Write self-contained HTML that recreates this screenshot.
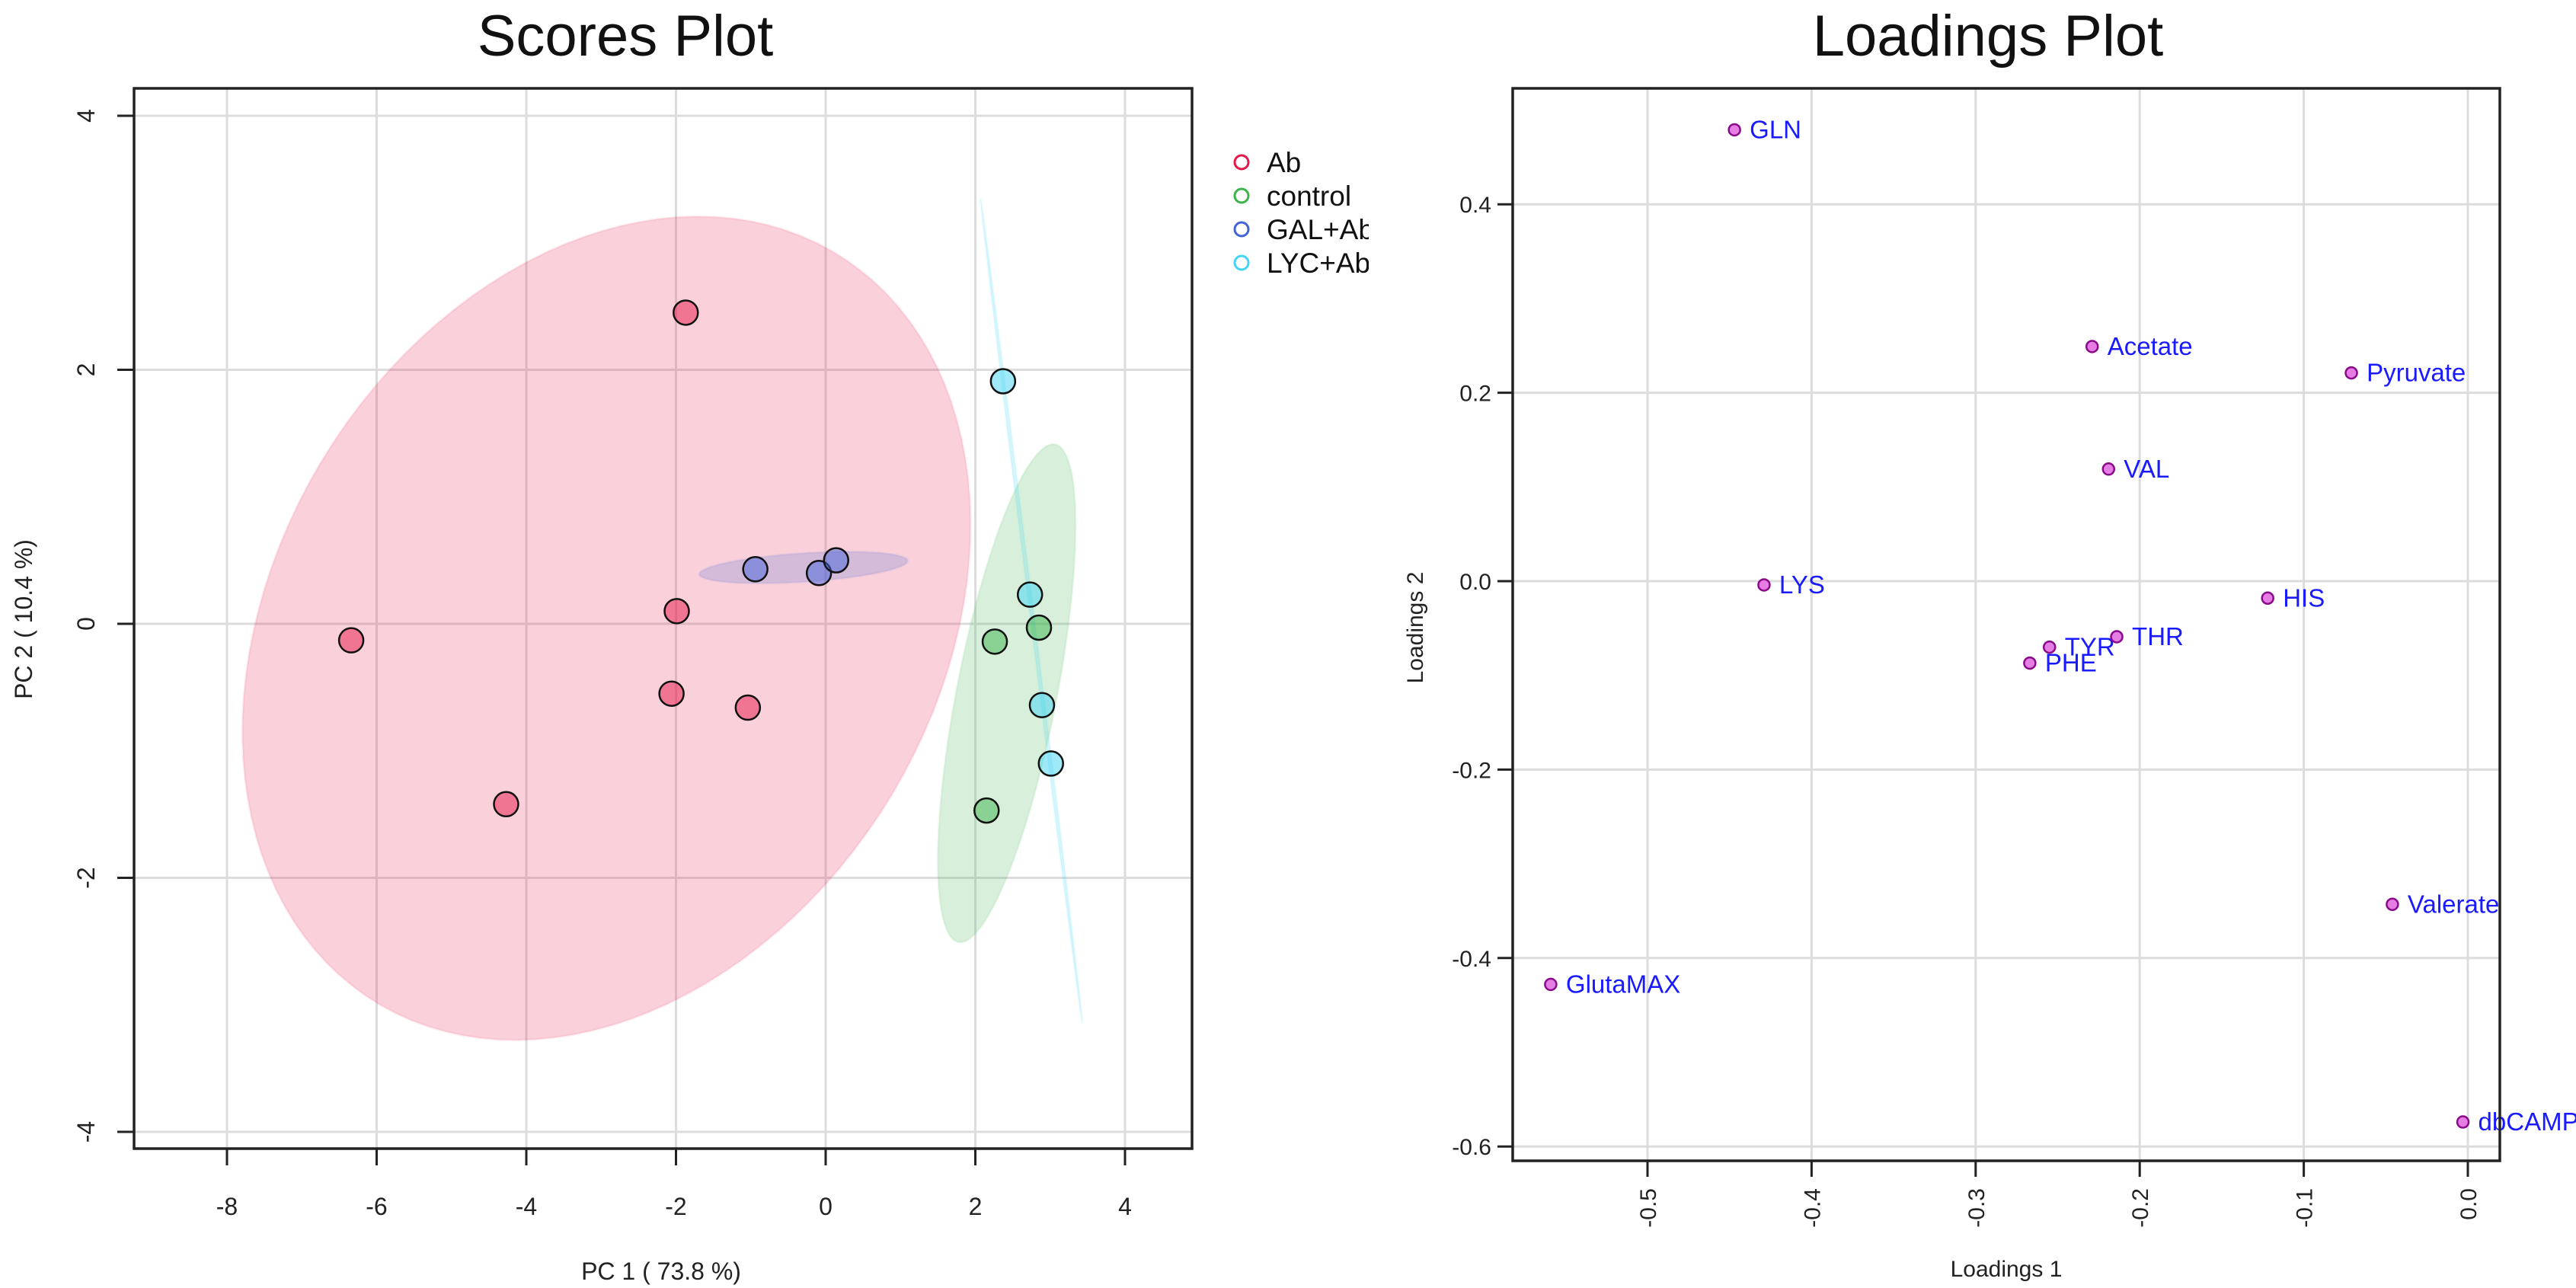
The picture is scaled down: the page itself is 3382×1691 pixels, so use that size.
<!DOCTYPE html>
<html><head><meta charset="utf-8">
<style>
html,body{margin:0;padding:0;background:#fff;}
svg{display:block;font-family:"Liberation Sans",sans-serif;}
</style></head>
<body>
<svg id="chart" width="3382" height="1691" viewBox="0 0 3382 1691" xmlns="http://www.w3.org/2000/svg">
<defs><clipPath id="legclip"><rect x="1600" y="180" width="197" height="200"/></clipPath></defs>
<rect width="3382" height="1691" fill="#fff"/>
<g id="scores"></g>
<g id="loadings"></g>
</svg>
<script>
// ---- Scores plot data ----
const groups = ["Ab", "control", "GAL+Ab", "LYC+Ab"];
const groupColors = ["230,25,75", "60,180,75", "67,99,216", "66,212,244"];
const abX = [-1.87, -1.99, -6.34, -2.06, -1.04, -4.27];
const abY = [2.45, 0.10, -0.13, -0.55, -0.66, -1.42];
const ctrlX = [2.26, 2.85, 2.15];
const ctrlY = [-0.14, -0.03, -1.47];
const galX = [-0.94, -0.09, 0.14];
const galY = [0.43, 0.40, 0.50];
const lycX = [2.37, 2.73, 2.89, 3.01];
const lycY = [1.91, 0.23, -0.64, -1.10];
const scoreXTicks = [-8, -6, -4, -2, 0, 2, 4];
const scoreYTicks = [-4, -2, 0, 2, 4];
// ---- Loadings plot data ----
const loadNames = ["GLN","Acetate","Pyruvate","VAL","LYS","HIS","TYR","THR","PHE","Valerate","GlutaMAX","dbCAMP"];
const load1 = [-0.447,-0.229,-0.071,-0.219,-0.429,-0.122,-0.255,-0.214,-0.267,-0.046,-0.559,-0.003];
const load2 = [0.479,0.249,0.221,0.119,-0.004,-0.018,-0.070,-0.059,-0.087,-0.343,-0.428,-0.574];
const loadXTicks = [-0.5,-0.4,-0.3,-0.2,-0.1,0.0];
const loadYTicks = [-0.6,-0.4,-0.2,0.0,0.2,0.4];

const NS = "http://www.w3.org/2000/svg";
function mk(parent, tag, attrs, text){
  const e = document.createElementNS(NS, tag);
  for (const k in attrs) e.setAttribute(k, attrs[k]);
  if (text !== undefined) e.textContent = text;
  parent.appendChild(e);
  return e;
}

// Scores axes
const sx = v => 1084 + v * 98.25;
const sy = v => 819 - v * 166.75;
const S = document.getElementById("scores");
let t = mk(S, "text", {x: 821, y: 73, "font-size": 76, "text-anchor": "middle", fill: "#111"}, "Scores Plot");


scoreXTicks.forEach(v => {
  const l = mk(S, "line", {x1: sx(v), x2: sx(v), y1: 116, y2: 1508, stroke: "#dcdcdc", "stroke-width": 3});
  
  
  const tk = mk(S, "line", {x1: sx(v), x2: sx(v), y1: 1508, y2: 1530, stroke: "#222", "stroke-width": 3});
  
  
  const lb = mk(S, "text", {x: sx(v), y: 1595, "font-size": 32, "text-anchor": "middle", fill: "#222"}, String(v));
  
  
});
scoreYTicks.forEach(v => {
  const l = mk(S, "line", {x1: 176, x2: 1565, y1: sy(v), y2: sy(v), stroke: "#dcdcdc", "stroke-width": 3});
  
  
  const tk = mk(S, "line", {x1: 154, x2: 176, y1: sy(v), y2: sy(v), stroke: "#222", "stroke-width": 3});
  
  
  const lb = mk(S, "text", {x: 124, y: sy(v), "font-size": 32, "text-anchor": "middle", fill: "#222", transform: `rotate(-90 124 ${sy(v)})`}, String(v));
  
  
});
t = mk(S, "text", {x: 868, y: 1680, "font-size": 32, "text-anchor": "middle", fill: "#222"}, "PC 1 ( 73.8 %)");


t = mk(S, "text", {x: 42, y: 813, "font-size": 32, "text-anchor": "middle", fill: "#222", transform: "rotate(-90 42 813)"}, "PC 2 ( 10.4 %)");



const series = [[abX, abY], [ctrlX, ctrlY], [galX, galY], [lycX, lycY]];
const K = 2.4477;
series.forEach((s, gi) => {
  const xs = s[0], ys = s[1], n = xs.length;
  const mx = xs.reduce((a, b) => a + b, 0) / n, my = ys.reduce((a, b) => a + b, 0) / n;
  let cxx = 0, cyy = 0, cxy = 0;
  for (let i = 0; i < n; i++) { cxx += (xs[i]-mx)**2; cyy += (ys[i]-my)**2; cxy += (xs[i]-mx)*(ys[i]-my); }
  cxx /= (n-1); cyy /= (n-1); cxy /= (n-1);
  const tr = cxx + cyy, det = cxx*cyy - cxy*cxy;
  const l1 = tr/2 + Math.sqrt(Math.max(0, tr*tr/4 - det)), l2 = Math.max(0, tr/2 - Math.sqrt(Math.max(0, tr*tr/4 - det)));
  const ang = Math.abs(cxy) < 1e-12 ? (cxx >= cyy ? 0 : Math.PI/2) : Math.atan2(l1 - cxx, cxy);
  let d = "";
  for (let k = 0; k <= 120; k++) {
    const th = k / 120 * 2 * Math.PI;
    const a = K*Math.sqrt(l1)*Math.cos(th), b = K*Math.sqrt(l2)*Math.sin(th);
    const px = mx + a*Math.cos(ang) - b*Math.sin(ang);
    const py = my + a*Math.sin(ang) + b*Math.cos(ang);
    d += (k ? "L" : "M") + sx(px).toFixed(1) + "," + sy(py).toFixed(1);
  }
  const p = mk(S, "path", {d: d + "Z", fill: `rgba(${groupColors[gi]},0.2)`, stroke: `rgba(${groupColors[gi]},0.08)`, "stroke-width": 3});
  
  
});
series.forEach((s, gi) => {
  s[0].forEach((xv, i) => {
    const c = mk(S, "circle", {cx: sx(xv), cy: sy(s[1][i]), r: 16, fill: `rgba(${groupColors[gi]},0.5)`, stroke: "#111", "stroke-width": 2.5});
    
    
  });
});
mk(S, "rect", {x: 176, y: 116, width: 1389, height: 1392, fill: "none", stroke: "#222", "stroke-width": 3.5});
const LG = mk(S, "g", {"clip-path": "url(#legclip)"});


const legY = [213, 257, 301, 345];
groups.forEach((g, i) => {
  const c = mk(LG, "circle", {cx: 1630, cy: legY[i], r: 9, fill: "none", stroke: `rgb(${groupColors[i]})`, "stroke-width": 3});
  
  
  const tx = mk(LG, "text", {x: 1663, y: legY[i] + 13, "font-size": 37, fill: "#111"}, g);
  
  
});

// Loadings axes
const lx = v => 3240 + v * 2154;
const ly = v => 763 - v * 1237;
const L = document.getElementById("loadings");
t = mk(L, "text", {x: 2610, y: 73, "font-size": 76, "text-anchor": "middle", fill: "#111"}, "Loadings Plot");


loadXTicks.forEach(v => {
  const l = mk(L, "line", {x1: lx(v), x2: lx(v), y1: 116, y2: 1524, stroke: "#dcdcdc", "stroke-width": 3});
  
  
  const tk = mk(L, "line", {x1: lx(v), x2: lx(v), y1: 1524, y2: 1545, stroke: "#222", "stroke-width": 3});
  
  
  const lb = mk(L, "text", {x: lx(v) + 11, y: 1560, "font-size": 30, "text-anchor": "end", fill: "#222", transform: `rotate(-90 ${lx(v) + 11} 1560)`}, v.toFixed(1));
  
  
});
loadYTicks.forEach(v => {
  const l = mk(L, "line", {x1: 1986, x2: 3282, y1: ly(v), y2: ly(v), stroke: "#dcdcdc", "stroke-width": 3});
  
  
  const tk = mk(L, "line", {x1: 1966, x2: 1986, y1: ly(v), y2: ly(v), stroke: "#222", "stroke-width": 3});
  
  
  const lb = mk(L, "text", {x: 1958, y: ly(v) + 11, "font-size": 30, "text-anchor": "end", fill: "#222"}, v.toFixed(1));
  
  
});
t = mk(L, "text", {x: 2634, y: 1676, "font-size": 30, "text-anchor": "middle", fill: "#222"}, "Loadings 1");


t = mk(L, "text", {x: 1868, y: 824, "font-size": 30, "text-anchor": "middle", fill: "#222", transform: "rotate(-90 1868 824)"}, "Loadings 2");


loadNames.forEach((nm, i) => {
  const c = mk(L, "circle", {cx: lx(load1[i]), cy: ly(load2[i]), r: 7.5, fill: "#e57de5", stroke: "#8a0a8a", "stroke-width": 2.5});
  
  
  const tx = mk(L, "text", {x: lx(load1[i]) + 20, y: ly(load2[i]) + 11, "font-size": 33, fill: "#1a1aff"}, nm);
  
  
});
mk(L, "rect", {x: 1986, y: 116, width: 1296, height: 1408, fill: "none", stroke: "#222", "stroke-width": 3.5});
</script>
</body></html>
